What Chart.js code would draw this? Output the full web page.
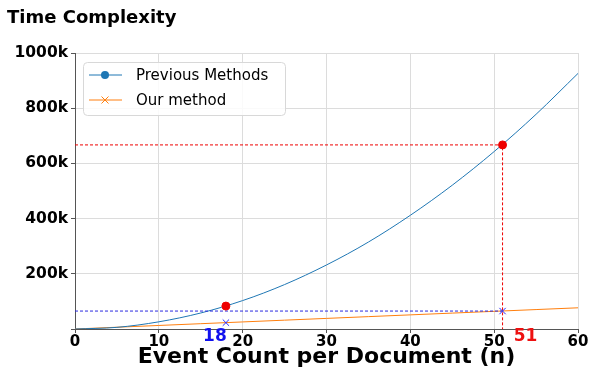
<!DOCTYPE html>
<html>
<head>
<meta charset="utf-8">
<script src="https://cdn.jsdelivr.net/npm/chart.js@4"></script>
<style>
html,body{margin:0;padding:0;background:#fff}
#wrap{width:592px;height:374px;position:relative}
</style>
</head>
<body>
<div id="wrap"><canvas id="c" width="592" height="374"></canvas></div>
<script>
// values
const nValues = [0,5,10,15,20,25,30,35,40,45,50,55,60];
const previousCost = [0,6000,26000,58000,103000,161000,232000,315000,412000,521000,643000,778000,926000];
const ourCost = [0,6400,12800,19200,25600,32000,38400,44800,51200,57600,64000,70400,76800];
const yTicks = [0,200000,400000,600000,800000,1000000];
const markN = [18,51];
const markPrev = [83000,667000];
const markOur = [23000,65000];

const FONT = "'DejaVu Sans', sans-serif";
const BLUE = '#1f77b4', ORANGE = '#ff7f0e';

const pts = (xs,ys)=>xs.map((x,i)=>({x:x,y:ys[i]}));

const extras = {
  id:'extras',
  afterDraw(chart){
    const {ctx,scales:{x,y}} = chart;
    ctx.save();
    // title
    ctx.fillStyle='#000';
    ctx.font="bold 18px "+FONT;
    ctx.textBaseline='middle'; ctx.textAlign='left';
    ctx.fillText('Time Complexity',7,18);
    // x title
    ctx.font="bold 22px "+FONT;
    ctx.textAlign='center';
    ctx.fillText('Event Count per Document (n)',(x.left+x.right)/2,357);
    // annotations
    ctx.font="bold 17px "+FONT;
    ctx.fillStyle='#1010ee';
    ctx.fillText(String(markN[0]),x.getPixelForValue(markN[0])-11,337);
    ctx.fillStyle='#ee1010';
    ctx.fillText(String(markN[1]),x.getPixelForValue(markN[1])+23,337);
    // legend
    const lx=83, ly=62, lw=202, lh=53;
    ctx.fillStyle='rgba(255,255,255,0.85)';
    ctx.strokeStyle='#d8d8d8'; ctx.lineWidth=1;
    ctx.beginPath();
    ctx.roundRect(lx+0.5,ly+0.5,lw,lh,4);
    ctx.fill(); ctx.stroke();
    ctx.font="15px "+FONT; ctx.textAlign='left'; ctx.fillStyle='#000';
    const rows=[['Previous Methods',BLUE,'dot'],['Our method',ORANGE,'x']];
    rows.forEach((r,i)=>{
      const cy=ly+13+i*25;
      ctx.strokeStyle=r[1]; ctx.lineWidth=1;
      ctx.beginPath(); ctx.moveTo(lx+6,cy); ctx.lineTo(lx+39,cy); ctx.stroke();
      const mx=lx+22;
      if(r[2]==='dot'){
        ctx.fillStyle=r[1]; ctx.beginPath(); ctx.arc(mx,cy,4,0,Math.PI*2); ctx.fill();
      }else{
        ctx.beginPath(); ctx.moveTo(mx-3.5,cy-3.5); ctx.lineTo(mx+3.5,cy+3.5);
        ctx.moveTo(mx+3.5,cy-3.5); ctx.lineTo(mx-3.5,cy+3.5); ctx.stroke();
      }
      ctx.fillStyle='#000';
      ctx.fillText(r[0],lx+53,cy+1);
    });
    ctx.restore();
  }
};

new Chart(document.getElementById('c'),{
  type:'line',
  data:{datasets:[
    {label:'red point',type:'scatter',data:pts(markN,markPrev),backgroundColor:'#ee0000',borderColor:'#ee0000',pointRadius:4,pointStyle:'circle',order:0},
    {label:'blue x',type:'scatter',data:pts(markN,markOur),borderColor:'#2a2aff',backgroundColor:'#2a2aff',pointRadius:4.5,pointStyle:'cross',rotation:45,pointBorderWidth:1,order:0},
    {label:'red guide',data:[{x:0,y:markPrev[1]},{x:markN[1],y:markPrev[1]},{x:markN[1],y:0}],borderColor:'#ee0000',borderWidth:1,borderDash:[3,2],pointRadius:0,order:1},
    {label:'blue guide',data:[{x:0,y:markOur[1]},{x:markN[1],y:markOur[1]}],borderColor:'#2a2ae0',borderWidth:1,borderDash:[3,2],pointRadius:0,order:1},
    {label:'Previous Methods',data:pts(nValues,previousCost),borderColor:BLUE,borderWidth:1,pointRadius:0,cubicInterpolationMode:'monotone',order:2},
    {label:'Our method',data:pts(nValues,ourCost),borderColor:ORANGE,borderWidth:1,pointRadius:0,order:2},
  ]},
  options:{
    responsive:false,animation:false,
    layout:{padding:{top:53,right:14,left:0,bottom:0}},
    plugins:{legend:{display:false},tooltip:{enabled:false}},
    scales:{
      x:{type:'linear',min:0,max:60,
        afterFit(s){s.height=45;},
        ticks:{stepSize:10,color:'#000',font:{family:FONT,size:15,weight:'bold'},padding:0,maxRotation:0},
        grid:{color:'#dcdcdc',tickColor:'#555',tickLength:4},
        border:{color:'#555',width:1}},
      y:{type:'linear',min:0,max:1000000,
        afterFit(s){s.width=75;},
        afterBuildTicks(s){s.ticks=yTicks.map(v=>({value:v}));},
        ticks:{color:'#000',font:{family:FONT,size:15.5,weight:'bold'},padding:3,callback:v=>v===0?'':(v/1000)+'k'},
        grid:{color:'#dcdcdc',tickColor:'#555',tickLength:4},
        border:{color:'#555',width:1}}
    }
  },
  plugins:[extras]
});
</script>
</body>
</html>
